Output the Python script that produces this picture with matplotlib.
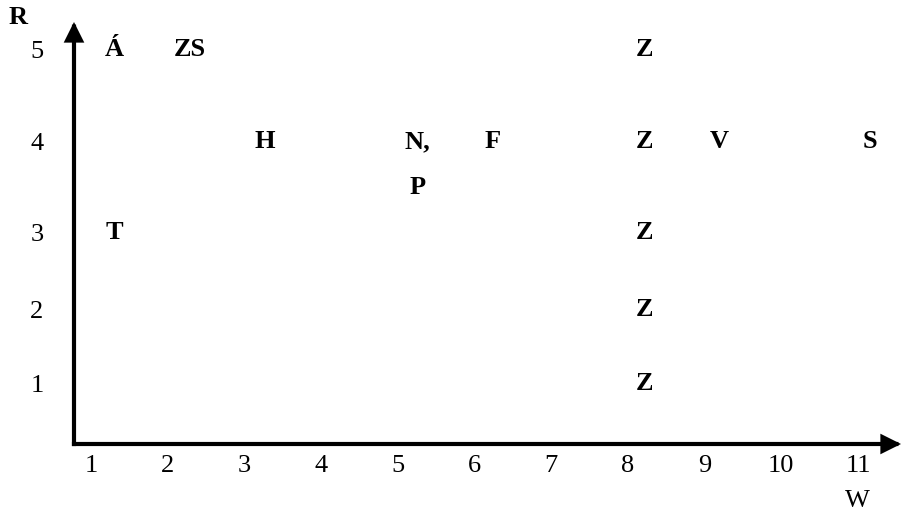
import numpy as np
import matplotlib
matplotlib.use("Agg")
import matplotlib.pyplot as plt

# tick values on both axes
w_ticks = [1, 2, 3, 4, 5, 6, 7, 8, 9, 10, 11]
r_ticks = [1, 2, 3, 4, 5]

# letters placed in the W/R plane
letters = ["Á", "ZS", "Z", "H", "N,", "F", "Z", "V", "S", "P", "T", "Z", "Z", "Z"]
w_vals = [1.30, 2.29, 8.21, 3.27, 5.25, 6.24, 8.21, 9.19, 11.16, 5.26, 1.31, 8.21, 8.21, 8.21]
r_vals = [5, 5, 5, 4, 4, 4, 4, 4, 4, 3.5, 3, 3, 2, 1]

plt.rcParams["font.family"] = ["Liberation Serif", "DejaVu Serif"]
FS = 19

# the R axis in the original is not evenly spaced
r_knots = [0, 1, 2, 3, 4, 5, 6]
px_knots = [0, 60, 134, 211, 302, 394, 486]


def fwd(y):
    return np.interp(y, r_knots, px_knots)


def inv(p):
    return np.interp(p, px_knots, r_knots)


fig = plt.figure(figsize=(9.01, 5.17), dpi=100)
ax = fig.add_axes([74 / 901, 73 / 517, 827 / 901, 422 / 517])
ax.set_yscale("function", functions=(fwd, inv))
ax.set_xlim(0.778, 11.56)
ax.set_ylim(0, 5.30)

for s in ax.spines.values():
    s.set_visible(False)

arrow = dict(arrowstyle="-|>,head_length=10,head_width=5", mutation_scale=1,
             lw=3, color="black", shrinkA=0, shrinkB=0,
             capstyle="projecting", joinstyle="miter")
ax.annotate("", xy=(1, 0), xytext=(0, 0), xycoords="axes fraction",
            arrowprops=arrow, annotation_clip=False)
ax.annotate("", xy=(0, 1), xytext=(0, 0), xycoords="axes fraction",
            arrowprops=arrow, annotation_clip=False)

ax.set_xticks(w_ticks)
ax.set_xticklabels([str(t) for t in w_ticks], fontsize=FS)
ax.set_yticks(r_ticks)
ax.set_yticklabels([str(t) for t in r_ticks], fontsize=FS)
ax.tick_params(axis="x", length=0, pad=8)
ax.tick_params(axis="y", length=0, pad=22)
ax.minorticks_off()

for lab, w, r in zip(letters, w_vals, r_vals):
    ax.text(w, r, lab, ha="center", va="center", fontsize=FS, fontweight="bold")

fig.text(18 / 901, 1 - 18 / 517, "R", ha="center", va="center", fontsize=FS, fontweight="bold")
fig.text(857 / 901, 1 - 501 / 517, "W", ha="center", va="center", fontsize=FS)

fig.savefig("out.png", dpi=100)
